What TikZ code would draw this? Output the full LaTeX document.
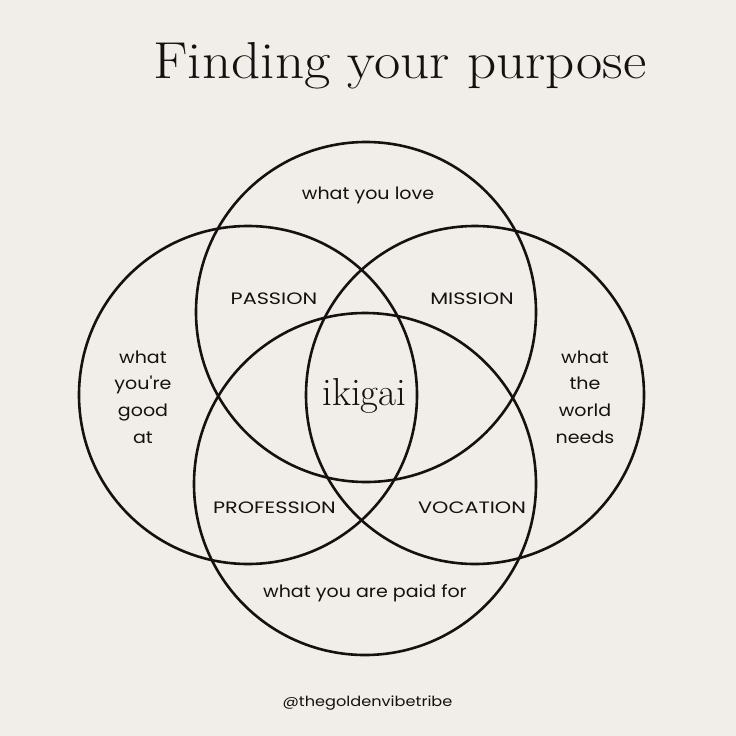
\documentclass[tikz,border=0pt]{standalone}
\usepackage{fontspec}
\newfontfamily\labfont{Poppins}
\definecolor{bg}{HTML}{F1EDE8}
\definecolor{ink}{HTML}{141210}
\begin{document}
\begin{tikzpicture}[x=1pt,y=-1pt,
  ring/.style={draw=ink,line width=2.6pt},
  lowlab/.style={font=\labfont\fontsize{17}{26.7}\selectfont,text=ink,align=center,inner sep=0pt,xscale=1.12},
  caplab/.style={font=\labfont\fontsize{16.5}{18}\selectfont,text=ink,inner sep=0pt,xscale=1.26},
  serifttl/.style={text=ink,inner sep=0pt,anchor=base}]
\fill[bg] (0,0) rectangle (736,736);
\useasboundingbox (0,0) rectangle (736,736);
% circles
\draw[ring] (366,312) circle[radius=170];
\draw[ring] (248,395) circle[radius=169];
\draw[ring] (475,395) circle[radius=169];
\draw[ring] (365,484) circle[radius=171];
% title
\node[serifttl,font=\fontsize{52}{60}\selectfont,xscale=1.1] (title) at (400,78) {Finding your purpose};
\node[serifttl,font=\fontsize{39}{42}\selectfont] (ikigai) at (364.5,405) {ikigai};
% labels
\node[lowlab] (love) at (368,195) {what you love};
\node[caplab] (passion) at (274,299) {PASSION};
\node[caplab] (mission) at (472,299) {MISSION};
\node[lowlab] (good) at (143,397) {what\\you're\\good\\at};
\node[lowlab] (needs) at (585,397) {what\\the\\world\\needs};
\node[caplab] (profession) at (274.5,508) {PROFESSION};
\node[caplab] (vocation) at (472,508) {VOCATION};
\node[lowlab] (paid) at (365,593) {what you are paid for};
\node[lowlab,font=\labfont\fontsize{14}{16}\selectfont,xscale=1.03] (tag) at (367.5,703) {@thegoldenvibetribe};
\end{tikzpicture}
\end{document}
